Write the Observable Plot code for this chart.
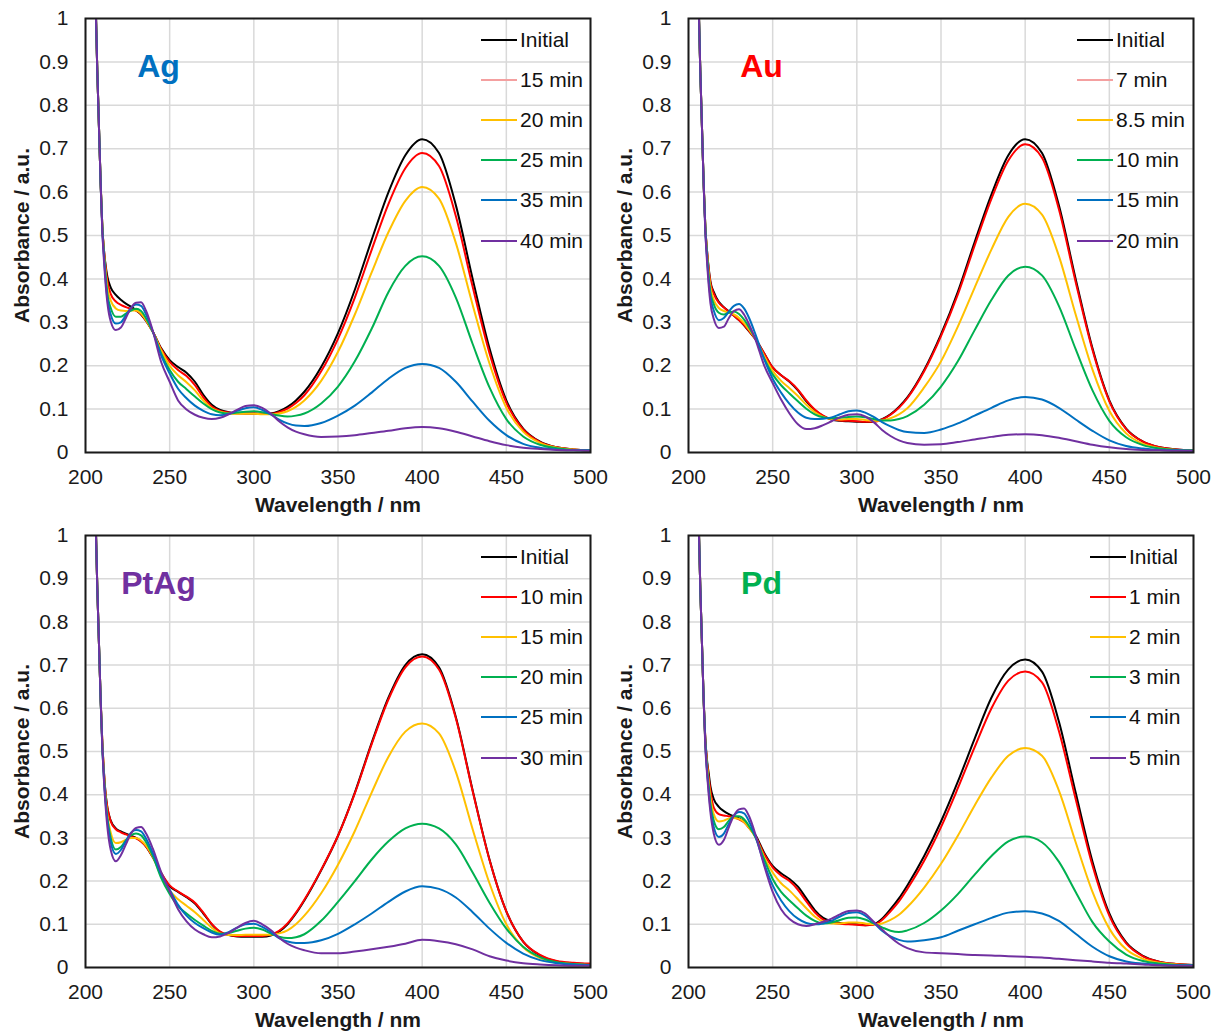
<!DOCTYPE html>
<html><head><meta charset="utf-8">
<script src="https://cdn.jsdelivr.net/npm/d3@7"></script>
<script src="https://cdn.jsdelivr.net/npm/@observablehq/plot@0.6"></script>
<style>
body{margin:0;background:#fff;font-family:"Liberation Sans",Arial,sans-serif;}
#wrap{position:relative;width:1213px;height:1033px;overflow:hidden;}
.pl{position:absolute;}
.lg{position:absolute;display:flex;align-items:center;height:24px;font-size:21px;color:#111;white-space:nowrap;}
.lg span.ln{display:inline-block;width:36px;margin-right:3px;}
</style></head><body><div id="wrap"></div>
<script>
const wavelengths = [203,205,207,209,210,211,212,213,215,218,221,224,227,230,233,236,240,245,250,255,260,265,270,275,280,285,290,295,300,305,310,315,320,325,330,340,350,360,370,380,390,400,410,420,430,440,450,460,470,480,490,500];
const xTicks = [200,250,300,350,400,450,500];
const yTicks = [0,0.1,0.2,0.3,0.4,0.5,0.6,0.7,0.8,0.9,1];
const seriesColors = ["#000000","#FF0000","#FFC000","#00B050","#0070C0","#7030A0"];

// Ag
const agLabels = ["Initial","15 min","20 min","25 min","35 min","40 min"];
const agInitial = [1.6,1.2,0.88,0.62,0.52,0.465,0.43,0.405,0.38,0.363,0.352,0.343,0.336,0.328,0.318,0.303,0.278,0.24,0.213,0.197,0.184,0.163,0.133,0.11,0.098,0.093,0.091,0.09,0.09,0.089,0.09,0.095,0.105,0.12,0.14,0.197,0.275,0.375,0.49,0.6,0.685,0.722,0.69,0.57,0.4,0.24,0.12,0.055,0.025,0.012,0.007,0.005];
const ag15 = [1.6,1.2,0.88,0.62,0.52,0.465,0.425,0.395,0.365,0.348,0.34,0.335,0.331,0.327,0.319,0.304,0.278,0.238,0.209,0.19,0.176,0.155,0.127,0.106,0.096,0.092,0.09,0.09,0.09,0.089,0.089,0.093,0.101,0.114,0.132,0.187,0.262,0.357,0.467,0.573,0.655,0.69,0.66,0.545,0.382,0.229,0.115,0.053,0.024,0.012,0.007,0.005];
const ag20 = [1.6,1.2,0.88,0.62,0.52,0.46,0.415,0.38,0.35,0.332,0.327,0.326,0.327,0.327,0.32,0.305,0.278,0.235,0.2,0.178,0.162,0.143,0.12,0.102,0.094,0.09,0.089,0.089,0.089,0.088,0.088,0.09,0.095,0.105,0.12,0.165,0.232,0.318,0.415,0.508,0.58,0.612,0.585,0.483,0.34,0.205,0.103,0.048,0.022,0.011,0.007,0.005];
const ag25 = [1.6,1.2,0.88,0.62,0.52,0.455,0.405,0.365,0.333,0.313,0.313,0.32,0.327,0.331,0.326,0.309,0.278,0.228,0.19,0.163,0.146,0.129,0.113,0.1,0.092,0.09,0.092,0.094,0.095,0.093,0.089,0.085,0.083,0.085,0.09,0.113,0.152,0.21,0.285,0.37,0.43,0.452,0.43,0.357,0.25,0.15,0.077,0.037,0.018,0.01,0.006,0.005];
const ag35 = [1.6,1.2,0.88,0.62,0.51,0.45,0.395,0.355,0.318,0.297,0.3,0.316,0.333,0.341,0.338,0.318,0.279,0.223,0.182,0.147,0.125,0.108,0.096,0.088,0.086,0.089,0.096,0.102,0.104,0.098,0.088,0.076,0.067,0.062,0.061,0.068,0.085,0.108,0.138,0.17,0.195,0.204,0.195,0.163,0.117,0.073,0.04,0.02,0.011,0.007,0.005,0.005];
const ag40 = [1.6,1.2,0.88,0.62,0.51,0.44,0.385,0.345,0.302,0.282,0.288,0.31,0.333,0.345,0.346,0.326,0.28,0.208,0.163,0.12,0.099,0.087,0.08,0.077,0.08,0.088,0.098,0.107,0.109,0.103,0.09,0.072,0.058,0.048,0.042,0.036,0.037,0.04,0.045,0.05,0.056,0.059,0.056,0.048,0.037,0.026,0.017,0.011,0.008,0.006,0.005,0.004];

// Au
const auLabels = ["Initial","7 min","8.5 min","10 min","15 min","20 min"];
const auInitial = [1.6,1.2,0.88,0.62,0.52,0.465,0.425,0.395,0.37,0.347,0.335,0.325,0.315,0.305,0.293,0.279,0.26,0.228,0.196,0.178,0.163,0.143,0.118,0.098,0.084,0.076,0.073,0.072,0.071,0.07,0.071,0.077,0.088,0.105,0.127,0.19,0.272,0.37,0.485,0.595,0.685,0.722,0.69,0.57,0.4,0.24,0.12,0.055,0.025,0.012,0.007,0.005];
const au7 = [1.6,1.2,0.88,0.62,0.52,0.465,0.422,0.392,0.366,0.345,0.334,0.324,0.315,0.305,0.294,0.28,0.26,0.228,0.196,0.178,0.164,0.145,0.12,0.099,0.085,0.077,0.074,0.073,0.072,0.071,0.071,0.076,0.087,0.103,0.125,0.187,0.268,0.364,0.477,0.585,0.673,0.71,0.679,0.561,0.393,0.236,0.118,0.054,0.025,0.012,0.007,0.005];
const au85 = [1.6,1.2,0.88,0.62,0.52,0.46,0.415,0.382,0.352,0.333,0.326,0.322,0.318,0.31,0.298,0.283,0.26,0.222,0.188,0.165,0.148,0.13,0.11,0.093,0.082,0.077,0.076,0.077,0.077,0.075,0.073,0.074,0.079,0.088,0.102,0.15,0.21,0.29,0.38,0.468,0.543,0.573,0.548,0.453,0.318,0.191,0.096,0.044,0.02,0.01,0.006,0.005];
const au10 = [1.6,1.2,0.88,0.62,0.52,0.455,0.405,0.37,0.342,0.322,0.318,0.322,0.325,0.319,0.306,0.288,0.26,0.216,0.18,0.155,0.136,0.118,0.101,0.088,0.081,0.079,0.08,0.082,0.083,0.081,0.077,0.074,0.074,0.077,0.084,0.11,0.152,0.21,0.282,0.352,0.408,0.428,0.408,0.338,0.238,0.143,0.073,0.035,0.017,0.009,0.006,0.005];
const au15 = [1.6,1.2,0.88,0.62,0.51,0.45,0.395,0.36,0.327,0.305,0.31,0.325,0.338,0.342,0.332,0.31,0.27,0.215,0.17,0.138,0.112,0.092,0.08,0.077,0.078,0.081,0.088,0.095,0.097,0.092,0.082,0.07,0.06,0.052,0.047,0.045,0.053,0.067,0.085,0.103,0.12,0.128,0.122,0.103,0.076,0.05,0.028,0.015,0.009,0.006,0.005,0.004];
const au20 = [1.6,1.2,0.88,0.62,0.51,0.44,0.385,0.345,0.308,0.287,0.29,0.31,0.326,0.33,0.318,0.295,0.258,0.2,0.16,0.122,0.09,0.065,0.054,0.056,0.063,0.072,0.081,0.087,0.088,0.083,0.07,0.052,0.038,0.028,0.022,0.018,0.019,0.024,0.03,0.036,0.041,0.042,0.04,0.034,0.026,0.018,0.012,0.008,0.006,0.005,0.004,0.004];

// PtAg
const ptagLabels = ["Initial","10 min","15 min","20 min","25 min","30 min"];
const ptagInitial = [1.6,1.2,0.88,0.62,0.52,0.45,0.4,0.37,0.34,0.322,0.315,0.31,0.305,0.3,0.292,0.28,0.255,0.218,0.188,0.175,0.163,0.148,0.125,0.1,0.082,0.075,0.072,0.071,0.071,0.071,0.074,0.083,0.1,0.125,0.155,0.225,0.305,0.405,0.52,0.625,0.7,0.725,0.695,0.58,0.41,0.25,0.13,0.06,0.028,0.014,0.01,0.008];
const ptag10 = [1.6,1.2,0.88,0.62,0.52,0.45,0.4,0.37,0.338,0.32,0.313,0.308,0.303,0.299,0.292,0.28,0.256,0.219,0.19,0.176,0.164,0.15,0.127,0.101,0.083,0.076,0.073,0.073,0.073,0.073,0.076,0.085,0.102,0.127,0.157,0.226,0.305,0.403,0.517,0.621,0.695,0.72,0.69,0.577,0.408,0.249,0.13,0.06,0.029,0.015,0.011,0.009];
const ptag15 = [1.6,1.2,0.88,0.62,0.52,0.445,0.39,0.352,0.312,0.288,0.29,0.296,0.3,0.3,0.294,0.282,0.256,0.212,0.178,0.158,0.143,0.128,0.11,0.092,0.079,0.075,0.075,0.076,0.076,0.076,0.076,0.079,0.086,0.1,0.12,0.172,0.238,0.316,0.405,0.488,0.546,0.565,0.542,0.453,0.32,0.195,0.1,0.047,0.022,0.011,0.008,0.006];
const ptag20 = [1.6,1.2,0.88,0.62,0.51,0.44,0.385,0.345,0.3,0.273,0.279,0.294,0.306,0.31,0.306,0.29,0.258,0.207,0.17,0.142,0.125,0.11,0.097,0.085,0.078,0.08,0.085,0.09,0.092,0.088,0.079,0.071,0.068,0.07,0.077,0.108,0.152,0.2,0.25,0.292,0.322,0.333,0.322,0.285,0.22,0.15,0.09,0.048,0.024,0.012,0.008,0.006];
const ptag25 = [1.6,1.2,0.88,0.62,0.51,0.435,0.38,0.34,0.29,0.263,0.272,0.293,0.312,0.318,0.315,0.298,0.265,0.215,0.18,0.145,0.12,0.103,0.091,0.081,0.076,0.082,0.092,0.1,0.101,0.094,0.082,0.068,0.06,0.057,0.057,0.063,0.078,0.1,0.125,0.152,0.176,0.188,0.182,0.162,0.128,0.09,0.057,0.032,0.017,0.01,0.007,0.006];
const ptag30 = [1.6,1.2,0.88,0.62,0.51,0.43,0.37,0.325,0.272,0.246,0.26,0.285,0.31,0.323,0.325,0.31,0.275,0.22,0.177,0.135,0.107,0.088,0.077,0.07,0.072,0.08,0.092,0.103,0.108,0.1,0.087,0.069,0.055,0.046,0.04,0.033,0.033,0.037,0.042,0.048,0.055,0.064,0.061,0.054,0.042,0.026,0.016,0.01,0.007,0.005,0.004,0.004];

// Pd
const pdLabels = ["Initial","1 min","2 min","3 min","4 min","5 min"];
const pdInitial = [1.6,1.2,0.88,0.62,0.53,0.48,0.45,0.42,0.39,0.372,0.362,0.355,0.35,0.345,0.338,0.325,0.305,0.265,0.235,0.218,0.205,0.187,0.16,0.133,0.115,0.107,0.103,0.101,0.1,0.098,0.1,0.113,0.135,0.16,0.19,0.258,0.338,0.43,0.53,0.625,0.69,0.713,0.685,0.57,0.405,0.245,0.125,0.058,0.027,0.013,0.008,0.006];
const pd1 = [1.6,1.2,0.88,0.62,0.53,0.475,0.44,0.41,0.37,0.355,0.352,0.35,0.347,0.343,0.336,0.323,0.302,0.262,0.232,0.213,0.2,0.18,0.153,0.128,0.111,0.104,0.101,0.1,0.099,0.098,0.099,0.11,0.13,0.153,0.182,0.247,0.325,0.415,0.51,0.6,0.664,0.685,0.66,0.548,0.39,0.236,0.12,0.056,0.026,0.013,0.008,0.006];
const pd2 = [1.6,1.2,0.88,0.62,0.52,0.47,0.43,0.395,0.355,0.338,0.34,0.345,0.346,0.344,0.337,0.323,0.3,0.255,0.22,0.195,0.178,0.158,0.137,0.118,0.106,0.102,0.102,0.104,0.104,0.102,0.1,0.102,0.11,0.122,0.14,0.185,0.24,0.305,0.375,0.44,0.49,0.508,0.49,0.41,0.29,0.175,0.09,0.042,0.02,0.011,0.007,0.006];
const pd3 = [1.6,1.2,0.88,0.62,0.52,0.46,0.42,0.38,0.34,0.32,0.325,0.34,0.35,0.35,0.343,0.327,0.3,0.25,0.205,0.175,0.155,0.137,0.12,0.108,0.102,0.104,0.11,0.115,0.116,0.111,0.102,0.093,0.085,0.082,0.086,0.103,0.132,0.17,0.215,0.258,0.292,0.303,0.29,0.245,0.175,0.105,0.06,0.03,0.015,0.009,0.006,0.005];
const pd4 = [1.6,1.2,0.88,0.62,0.52,0.455,0.41,0.37,0.325,0.302,0.31,0.333,0.352,0.36,0.357,0.338,0.3,0.24,0.19,0.155,0.13,0.113,0.103,0.1,0.102,0.108,0.118,0.126,0.128,0.12,0.104,0.085,0.072,0.064,0.06,0.063,0.07,0.085,0.1,0.115,0.127,0.13,0.125,0.108,0.078,0.048,0.026,0.014,0.009,0.006,0.005,0.005];
const pd5 = [1.6,1.2,0.88,0.62,0.51,0.45,0.4,0.36,0.31,0.284,0.295,0.325,0.352,0.366,0.368,0.35,0.305,0.235,0.175,0.135,0.112,0.1,0.096,0.1,0.106,0.113,0.123,0.131,0.132,0.125,0.106,0.088,0.07,0.055,0.045,0.035,0.033,0.031,0.029,0.028,0.026,0.025,0.023,0.02,0.017,0.014,0.011,0.009,0.007,0.005,0.004,0.004];

const panels = [
  {name:"Ag", color:"#0070C0", labels:agLabels, series:[agInitial,ag15,ag20,ag25,ag35,ag40], ox:0, oy:0, h:517, ph:434, legX:481, thin:true},
  {name:"Au", color:"#FF0000", labels:auLabels, series:[auInitial,au7,au85,au10,au15,au20], ox:603, oy:0, h:517, ph:434, legX:474, thin:true},
  {name:"PtAg", color:"#7030A0", labels:ptagLabels, series:[ptagInitial,ptag10,ptag15,ptag20,ptag25,ptag30], ox:0, oy:517, h:515, ph:432, legX:481, thin:false},
  {name:"Pd", color:"#00B050", labels:pdLabels, series:[pdInitial,pd1,pd2,pd3,pd4,pd5], ox:603, oy:517, h:515, ph:432, legX:487, thin:false}
];

const wrap = document.getElementById("wrap");
const fmt = d => String(+d.toFixed(1));

for (const p of panels) {
  const lines = p.series.map((vals, i) =>
    Plot.line(vals.map((v, j) => ({wl: wavelengths[j], a: v})), {
      x: "wl", y: "a", stroke: seriesColors[i], strokeWidth: 2, curve: "monotone-x", clip: true
    })
  );
  const chart = Plot.plot({
    width: 603, height: p.h,
    marginLeft: 85, marginRight: 13, marginTop: 18, marginBottom: p.h - 18 - p.ph,
    x: {domain: [200, 500]},
    y: {domain: [0, 1]},
    style: {fontFamily: "'Liberation Sans', Arial, sans-serif", fontSize: "21px", color: "#1a1a1a", background: "transparent", overflow: "visible"},
    marks: [
      Plot.gridX(xTicks, {stroke: "#d9d9d9", strokeOpacity: 1, strokeWidth: 1.5}),
      Plot.gridY(yTicks, {stroke: "#d9d9d9", strokeOpacity: 1, strokeWidth: 1.5}),
      ...lines,
      Plot.frame({stroke: "#1a1a1a", strokeWidth: 2}),
      Plot.axisX(xTicks, {tickSize: 0, tickPadding: 17, label: null, fontSize: 21}),
      Plot.axisY(yTicks, {tickSize: 0, tickPadding: 17, label: null, tickFormat: fmt, fontSize: 21}),
      Plot.text(["Wavelength / nm"], {frameAnchor: "bottom", dy: 53, lineAnchor: "middle", textAnchor: "middle", fontWeight: "bold", fontSize: 21}),
      Plot.text(["Absorbance / a.u."], {frameAnchor: "left", dx: -63, rotate: -90, lineAnchor: "middle", textAnchor: "middle", fontWeight: "bold", fontSize: 21}),
      Plot.text([p.name], {frameAnchor: "top-left", dx: 73, dy: 48, lineAnchor: "middle", textAnchor: "middle", fill: p.color, fontWeight: "bold", fontSize: 32})
    ]
  });
  const holder = document.createElement("div");
  holder.className = "pl";
  holder.style.left = p.ox + "px";
  holder.style.top = p.oy + "px";
  holder.appendChild(chart);
  wrap.appendChild(holder);

  p.labels.forEach((lab, i) => {
    const row = document.createElement("div");
    row.className = "lg";
    const cy = p.oy + 18 + 21.5 + 40.2 * i;
    row.style.top = (cy - 12) + "px";
    row.style.left = (p.ox + p.legX) + "px";
    const ln = document.createElement("span");
    ln.className = "ln";
    const isThin = p.thin && i === 1;
    ln.style.height = isThin ? "2px" : "2px";
    ln.style.background = isThin ? "#F4A0A0" : seriesColors[i];
    row.appendChild(ln);
    const t = document.createElement("span");
    t.textContent = lab;
    row.appendChild(t);
    wrap.appendChild(row);
  });
}
</script>
</body></html>
